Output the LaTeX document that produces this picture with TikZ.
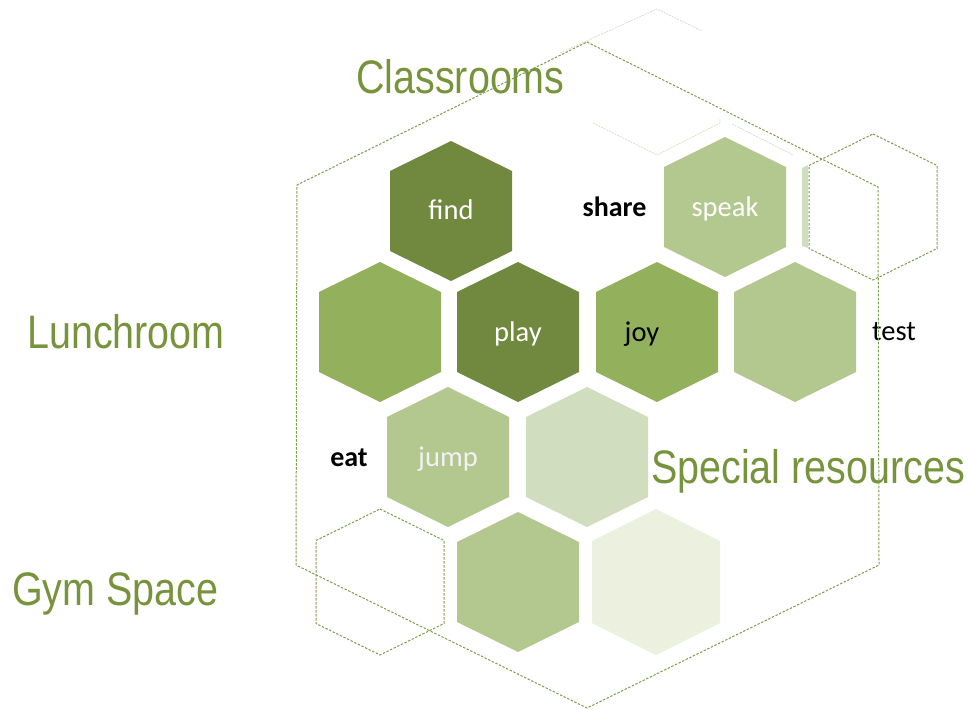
\documentclass[tikz,border=0pt]{standalone}
\usepackage{fontspec}
\setmainfont{Carlito}
\newfontfamily\narrowfont[FakeStretch=0.84]{Liberation Sans}
\definecolor{gdark}{HTML}{71893F}
\definecolor{gmed}{HTML}{93B05D}
\definecolor{glight}{HTML}{B3C88F}
\definecolor{glighter}{HTML}{D0DDBE}
\definecolor{gpale}{HTML}{EBF0DF}
\definecolor{gtext}{HTML}{77933C}
\definecolor{gline}{HTML}{7F9A4A}
\definecolor{gfaint}{HTML}{D6E0C6}
\newcommand{\hexat}[6]{\path[#6] (#1,#2) +(0,-#4) -- +(#3,-#5) -- +(#3,#5) -- +(0,#4) -- +(-#3,#5) -- +(-#3,-#5) -- cycle;}
\tikzset{
  bigtitle/.style={font=\narrowfont\fontsize{47}{50}\selectfont, text=gtext, anchor=base west, inner sep=0pt},
  lbl/.style={font=\fontsize{28.5}{30}\selectfont, anchor=base, inner sep=0pt},
  boldlbl/.style={lbl, font=\bfseries\fontsize{28}{30}\selectfont},
  dashline/.style={draw=gline, line width=1pt, dash pattern=on 2.4pt off 1.6pt},
  faint/.style={draw=gfaint, line width=0.8pt, dash pattern=on 2pt off 1pt}
}
\begin{document}
\begin{tikzpicture}[x=1pt,y=-1pt]
\useasboundingbox (0,0) rectangle (968,709);
% faint partial outlines at top
\draw[faint] (560,53) -- (657,9) -- (702,31);
\draw[faint] (593,123) -- (657,155) -- (720,123) -- (720,118);
\draw[faint] (732,124) -- (793,155);
% filled hexagons
\hexat{451}{211}{61}{70}{40}{fill=gdark}
\hexat{725}{207}{61}{70}{40}{fill=glight}
\hexat{380}{332}{61}{70}{40}{fill=gmed}
\hexat{518}{332}{61}{70}{40}{fill=gdark}
\hexat{657}{332}{61}{70}{40}{fill=gmed}
\hexat{795}{332}{61}{70}{40}{fill=glight}
\hexat{448}{457}{61}{70}{40}{fill=glight}
\hexat{587}{457}{61}{70}{40}{fill=glighter}
\hexat{518}{582}{61}{70}{40}{fill=glight}
\hexat{656}{582}{64}{73}{41}{fill=gpale}
% pale strip
\fill[glighter] (802,168) -- (808,165) -- (808,248) -- (802,246) -- cycle;
% labels
\node[lbl, text=white] (find) at (451,219) {find};
\node[boldlbl, text=black] (share) at (614.5,216) {share};
\node[lbl, text=white] (speak) at (725,216) {speak};
\node[lbl, text=white] (play) at (518,341) {play};
\node[lbl, text=black] (joy) at (642,341) {joy};
\node[lbl, text=black] (test) at (894,340) {test};
\node[boldlbl, text=black] (eat) at (349,466) {eat};
\node[lbl, text=white!95!black] (jump) at (448,466) {jump};
% titles
\node[bigtitle] (classrooms) at (356,93) {Classrooms};
\node[bigtitle] (lunchroom) at (27,348) {Lunchroom};
\node[bigtitle] (special) at (651,483) {Special resources};
\node[bigtitle] (gym) at (12,605) {Gym Space};
% dashed outline hexagons
\hexat{873}{207}{64}{73}{41.5}{dashline}
\hexat{380}{582}{64}{73}{41.5}{dashline}
% big dashed hexagon
\draw[dashline] (587,42) -- (878,187) -- (879,565) -- (587,708) -- (296,565) -- (297,185) -- cycle;
\end{tikzpicture}
\end{document}
